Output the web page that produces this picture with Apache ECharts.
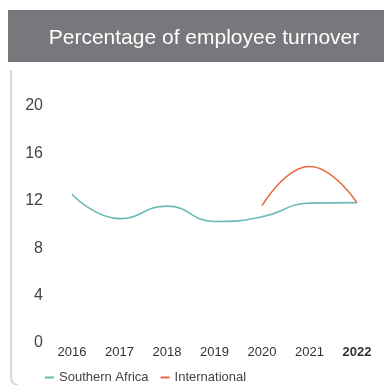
<!DOCTYPE html>
<html>
<head>
<meta charset="utf-8">
<script src="https://cdn.jsdelivr.net/npm/echarts@6/dist/echarts.min.js"></script>
<style>
  html, body { margin: 0; padding: 0; background: #fff; }
  #chart { width: 384px; height: 385px; }
</style>
</head>
<body>
<div id="chart"></div>
<script>
// Employee turnover, % per year
const years = ['2016', '2017', '2018', '2019', '2020', '2021', '2022'];
const southernAfrica = [12.55, 10.5, 11.55, 10.25, 10.65, 11.8, 11.85];
const international = [null, null, null, null, 11.6, 14.9, 11.85];
const yTicks = { min: 0, max: 20, interval: 4 };
const titleText = 'Percentage of employee turnover';

const FONT = '"Liberation Sans", Arial, Helvetica, sans-serif';
const chart = echarts.init(document.getElementById('chart'), null, { renderer: 'canvas' });

chart.setOption({
  animation: false,
  textStyle: { fontFamily: FONT },
  graphic: [
    {
      type: 'rect',
      shape: { x: 8, y: 10, width: 390, height: 52, r: [0, 12, 0, 0] },
      style: { fill: '#77787b' }
    },
    {
      type: 'text',
      x: 204, y: 38,
      style: {
        text: titleText,
        fill: '#ffffff',
        font: '21px ' + FONT,
        align: 'center',
        verticalAlign: 'middle'
      }
    },
    {
      type: 'polyline',
      shape: { points: [[11, 70], [11, 377]] },
      style: { fill: null, stroke: '#d6d6d6', lineWidth: 2 }
    },
    {
      type: 'bezierCurve',
      shape: { x1: 11, y1: 377, cpx1: 11, cpy1: 384, x2: 19, y2: 386 },
      style: { fill: null, stroke: '#d6d6d6', lineWidth: 2 }
    }
  ],
  grid: { left: 72, right: 27, top: 106, bottom: 42, containLabel: false },
  legend: {
    left: 40,
    top: 366,
    icon: 'rect',
    itemWidth: 9,
    itemHeight: 2,
    itemGap: 12,
    textStyle: { fontSize: 13, color: '#444', fontFamily: FONT },
    data: ['Southern Africa', 'International']
  },
  xAxis: {
    type: 'category',
    data: years,
    boundaryGap: false,
    axisLine: { show: false },
    axisTick: { show: false },
    axisLabel: {
      interval: 0,
      margin: 3,
      fontSize: 13,
      color: '#333',
      fontFamily: FONT,
      formatter: v => v === '2022' ? '{b|' + v + '}' : v,
      rich: { b: { fontWeight: 'bold', fontSize: 13, color: '#333', fontFamily: FONT } }
    }
  },
  yAxis: {
    type: 'value',
    min: yTicks.min,
    max: yTicks.max,
    interval: yTicks.interval,
    axisLine: { show: false },
    axisTick: { show: false },
    splitLine: { show: false },
    axisLabel: { margin: 29, fontSize: 16, color: '#444', fontFamily: FONT }
  },
  series: [
    {
      name: 'Southern Africa',
      type: 'line',
      data: southernAfrica,
      smooth: 0.5,
      symbol: 'none',
      lineStyle: { color: '#67bab8', width: 1.6 },
      itemStyle: { color: '#67bab8' }
    },
    {
      name: 'International',
      type: 'line',
      data: international,
      smooth: 0.5,
      symbol: 'none',
      lineStyle: { color: '#e96a38', width: 1.6 },
      itemStyle: { color: '#e96a38' }
    }
  ]
});
</script>
</body>
</html>
